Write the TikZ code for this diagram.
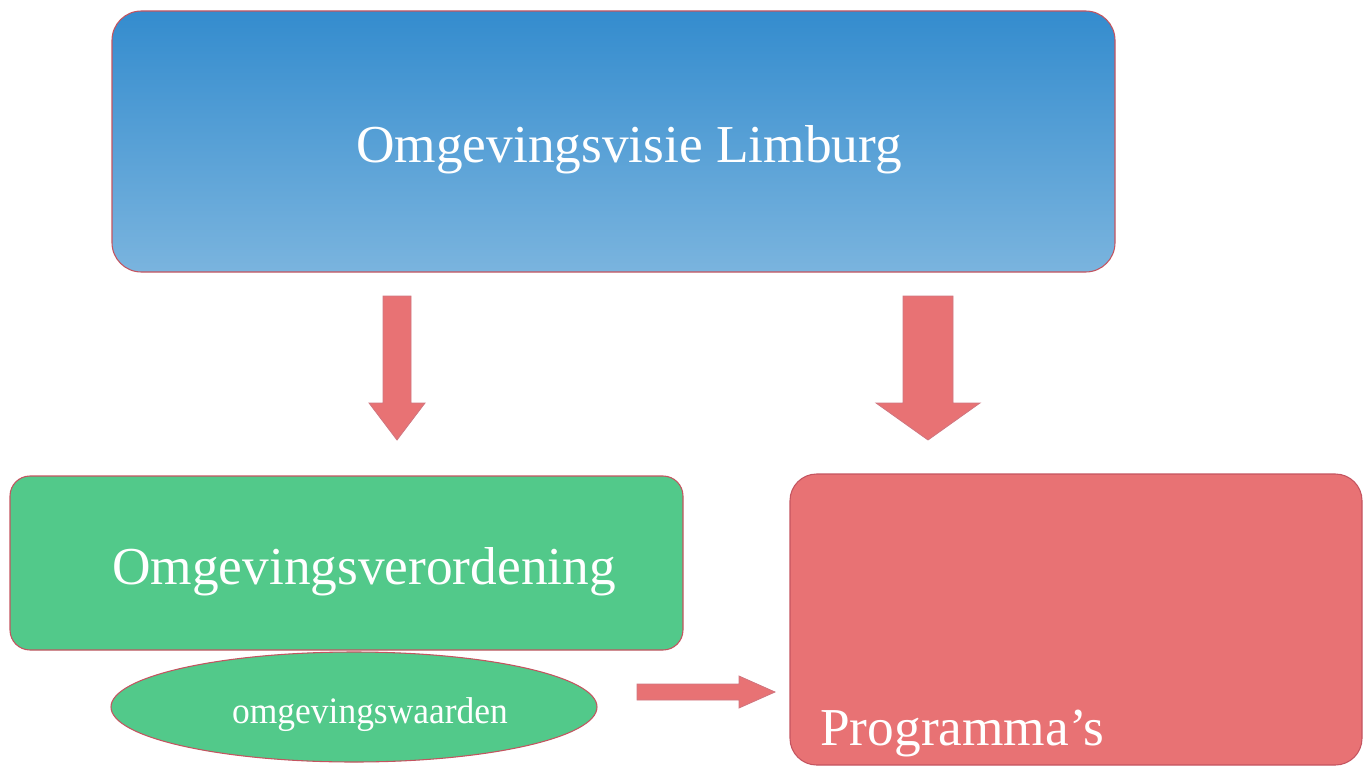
\documentclass[tikz,border=0pt]{standalone}
\usepackage{fontspec}
\setmainfont{Liberation Serif}
\usetikzlibrary{calc, positioning, shapes.geometric}
\definecolor{visieb}{RGB}{52,140,206}
\definecolor{visiel}{RGB}{122,180,222}
\definecolor{verordg}{RGB}{82,201,138}
\definecolor{progr}{RGB}{232,114,116}
\definecolor{rand}{RGB}{196,84,96}

\begin{document}
\begin{tikzpicture}[x=0.75pt, y=-0.75pt,
            box/.style={rectangle, rounded corners=22pt, draw=rand, line width=0.8pt, text=white},
            pijl/.style={fill=progr, draw=rand!80, line width=0.6pt},
            groot/.style={font=\fontsize{40}{48}\selectfont}]
        \useasboundingbox (0,0) rectangle (1363,767);
        \node[box, shade, top color=visieb, bottom color=visiel,
            minimum width={1003*0.75pt}, minimum height={261*0.75pt}] (visie) at (613.5,141.5) {};
        \node[groot, text=white] (visietxt) at (629,150) {Omgevingsvisie Limburg};
        \node[box, fill=verordg, rounded corners=15pt, minimum width={673*0.75pt}, minimum height={174*0.75pt}] (verord) at (346.5,563) {};
        \node[groot, text=white] (verordtxt) at (364,572) {Omgevingsverordening};
        \node[ellipse, fill=verordg, draw=rand, line width=0.8pt, minimum width={486*0.75pt}, minimum height={110*0.75pt}] (waarden) at (354,707) {};
        \node[text=white, font=\fontsize{28}{32}\selectfont, xscale=0.95] (waardentxt) at (370,715) {omgevingswaarden};
        \node[box, fill=progr, rounded corners=20pt, minimum width={572*0.75pt}, minimum height={291*0.75pt}] (prog) at (1076,619.5) {};
        \node[groot, text=white, anchor=base west, inner sep=0pt] (progtxt) at (820,745) {Programma’s};
        % blokpijlen
        \coordinate (p1) at (397,296);
        \coordinate (p2) at (928,296);
        \coordinate (p3) at (637,692);
        \draw[pijl] ($(p1)+(-14,0)$) -- ($(p1)+(14,0)$) -- ($(p1)+(14,107)$) -- ($(p1)+(28,107)$) -- ($(p1)+(0,144)$)
            -- ($(p1)+(-28,107)$) -- ($(p1)+(-14,107)$) -- cycle;
        \draw[pijl] ($(p2)+(-25,0)$) -- ($(p2)+(25,0)$) -- ($(p2)+(25,107)$) -- ($(p2)+(52,107)$) -- ($(p2)+(0,144)$)
            -- ($(p2)+(-52,107)$) -- ($(p2)+(-25,107)$) -- cycle;
        \draw[pijl] ($(p3)+(0,-8)$) -- ($(p3)+(102,-8)$) -- ($(p3)+(102,-16)$) -- ($(p3)+(138,0)$) -- ($(p3)+(102,16)$)
            -- ($(p3)+(102,8)$) -- ($(p3)+(0,8)$) -- cycle;
    \end{tikzpicture}
\end{document}
